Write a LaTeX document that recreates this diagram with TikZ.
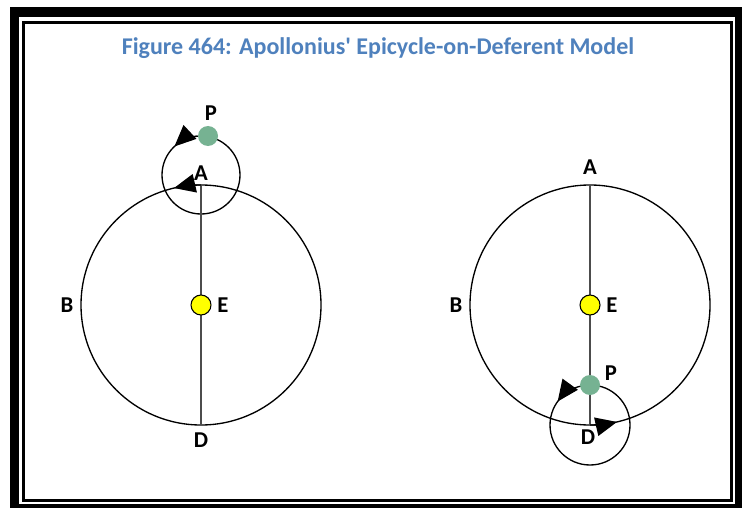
\documentclass[tikz,border=0pt]{standalone}
\usepackage{fontspec}
\setmainfont{Carlito}
\usetikzlibrary{arrows.meta}

\definecolor{captionblue}{RGB}{79,129,189}
\definecolor{planetgreen}{RGB}{118,178,146}
\definecolor{sunyellow}{RGB}{255,255,0}

\begin{document}
\begin{tikzpicture}[x=0.75pt, y=0.75pt,
    orbit/.style={line width=1pt},
    axis/.style={line width=0.8pt, black!70},
    pt/.style={font=\bfseries\fontsize{17}{17}\selectfont, inner sep=0pt},
    earth/.style={circle, draw, line width=0.8pt, fill=sunyellow, minimum size=15pt, inner sep=0pt},
    planet/.style={circle, fill=planetgreen, minimum size=15pt, inner sep=0pt},
    motion/.style={-{Triangle[length=16pt, width=14pt]}, line width=1pt}]
    \useasboundingbox (0, 0) rectangle (742, 508);

    % double frame
    \fill[black] (10, 0) rectangle (742, 501);
    \fill[white] (19, 4) rectangle (735, 491);
    \draw[line width=2.25pt] (23.5, 7.5) rectangle (731, 485.5);

    \node[font=\bfseries\fontsize{18}{18}\selectfont, text=captionblue] (title) at (378, 460) {Figure 464: Apollonius\textquotesingle{} Epicycle-on-Deferent Model};

    % left: planet at apogee
    \coordinate (A1) at (201, 323);
    \coordinate (D1) at (201, 83);
    \coordinate (C1) at (201, 333);
    \draw[orbit] (201, 203) circle (120);
    \draw[orbit] (C1) circle (39);
    \draw[axis] (A1) -- (D1);
    \draw[motion] (201, 203) ++(90:120) arc[start angle=90, end angle=103, radius=120];
    \draw[motion] (C1) ++(96:39) arc[start angle=96, end angle=133, radius=39];
    \node[earth] (E1) at (201, 203) {};
    \node[planet] (P1) at (208, 372) {};
    \node[pt] (labA1) at (201, 335) {A};
    \node[pt] (labB1) at (67, 203) {B};
    \node[pt] (labD1) at (201, 68) {D};
    \node[pt] (labE1) at (223, 203) {E};
    \node[pt] (labP1) at (211, 395) {P};

    % right: planet at perigee
    \coordinate (A2) at (590, 323);
    \coordinate (D2) at (590, 83);
    \draw[orbit] (590, 203) circle (120);
    \draw[orbit] (D2) circle (40);
    \draw[axis] (A2) -- (D2);
    \draw[motion] (590, 203) ++(-90:120) arc[start angle=-90, end angle=-77, radius=120];
    \draw[motion] (D2) ++(110:40) arc[start angle=110, end angle=144, radius=40];
    \node[earth] (E2) at (590, 203) {};
    \node[planet] (P2) at (590, 123) {};
    \node[pt] (labA2) at (590, 341) {A};
    \node[pt] (labB2) at (456, 203) {B};
    \node[pt] (labD2) at (588, 71) {D};
    \node[pt] (labE2) at (612, 203) {E};
    \node[pt] (labP2) at (611, 135) {P};
\end{tikzpicture}
\end{document}
